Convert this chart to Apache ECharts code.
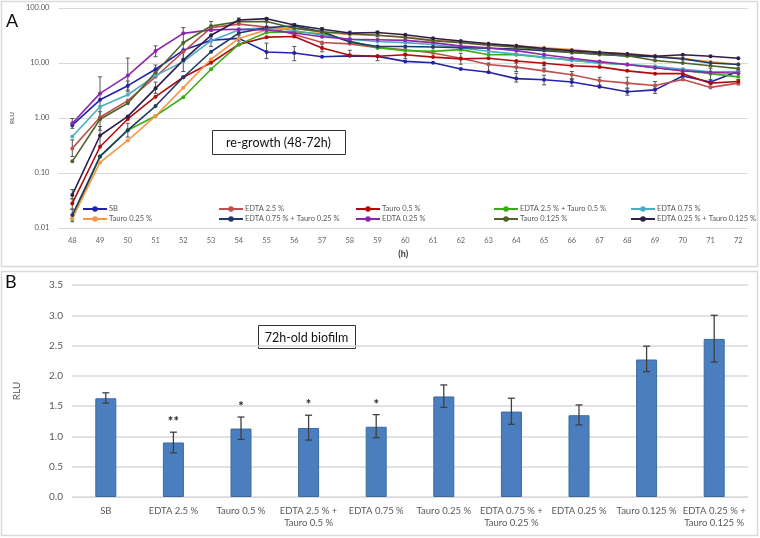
<!DOCTYPE html>
<html><head><meta charset="utf-8">
<script src="https://cdn.jsdelivr.net/npm/echarts@6/dist/echarts.min.js"></script>
<style>html,body{margin:0;padding:0;background:#fff}#c{width:760px;height:538px}</style>
</head><body><div id="c"></div>
<script>
const hours = [48,49,50,51,52,53,54,55,56,57,58,59,60,61,62,63,64,65,66,67,68,69,70,71,72];
const seriesNames = ['SB','EDTA 2.5 %','Tauro 0.5 %','EDTA 2.5 % + Tauro 0.5 %','EDTA 0.75 %','Tauro 0.25 %','EDTA 0.75 % + Tauro 0.25 %','EDTA 0.25 %','Tauro 0.125 %','EDTA 0.25 % + Tauro 0.125 %'];
const sb        = [0.74,2.14,3.87,7.7,17,26,28,15.8,15.2,13,13.5,13.2,10.7,10.1,7.8,6.8,5.2,4.95,4.5,3.7,3.0,3.25,5.8,4.5,7.1];
const edta25    = [0.28,1.03,2.07,5.6,16,44,51,45,33,23.6,22.3,19,17.4,15.2,12.2,9.4,8.4,7.2,6.1,4.8,4.3,3.9,5.0,3.6,4.3];
const tauro05   = [0.028,0.30,0.96,2.44,5.5,10.1,21.8,29.5,30.3,18.7,13.8,13.3,14.1,12.8,11.9,12.2,10.9,9.9,8.9,8.5,7.2,6.4,6.4,4.3,4.6];
const edta25t05 = [0.0146,0.20,0.6,1.09,2.38,7.7,21.8,36,37,34,25,19,16.8,16.3,17.5,14.1,14.1,12.6,11.4,10,9.4,8.2,7.4,6.4,5.6];
const edta075   = [0.46,1.6,2.65,5.9,10.6,25.5,40,44,39,32,27,24.6,23.5,21.7,18.8,16.3,14.5,12.8,11.1,10,9.4,8.7,7.7,6.9,7.0];
const tauro025  = [0.015,0.156,0.39,1.09,3.56,11.7,28,40,43,36,33,32,30,26,24,22.4,20.5,18.9,17.5,15.6,14.8,13.5,12,10.5,9.5];
const edta075t025 = [0.0172,0.20,0.6,1.65,5.5,16,35,44,47,37,24,20,20,19.5,19,18.5,18,16.8,15.6,14.5,13.5,13,11.9,10,9.4];
const edta025   = [0.80,2.8,5.9,16.5,34.6,40,41,40,35,30,27,26.4,25.8,23.5,20.3,18.8,16.8,14.1,12.2,10.6,9.4,8.2,7.2,6.7,6.5];
const tauro0125 = [0.163,0.95,1.85,6.7,23.4,47,56.5,57,43,37,34,32,29,25.5,23.5,21,19.3,17.5,15.6,14.3,13.5,11.1,10,8.9,7.9];
const edta025t0125 = [0.040,0.48,1.07,3.46,11.3,31.9,60.5,64,49,41,35,35.8,32.6,28.2,25.1,22.4,20.5,18.3,16.8,15.6,14.5,13.3,14.1,13.3,12.2];
const lineErrors = [
 [48,0.65,0.98],[48,0.2,0.4],[48,0.034,0.05],[48,0.022,0.034],[48,0.013,0.022],
 [49,1.0,5.6],[49,0.6,1.3],[49,0.3,0.7],
 [50,3.0,12.3],[50,3.2,4.7],[50,0.45,0.8],
 [51,13,20.5],[51,6.5,9.2],[51,2.8,4.5],
 [52,12,44],[52,7,16],
 [53,38,57],[53,20,30],
 [54,50,66],[54,25,32],
 [55,45,66],[55,12,23],
 [56,42,52],[56,11,20],
 [57,30,44],[57,16,22],
 [58,28,38],[58,14,17],
 [59,30,38],[59,11,13],
 [60,12,15],[62,9.5,15],[63,7,10],
 [64,4.5,6.5],[64,7,10],[65,4,6],[65,8,9],
 [66,3.8,5.2],[66,5,7],[67,4,5.5],
 [68,2.6,3.4],[68,3.5,5.5],[69,2.8,3.7],[69,3.4,4.6],
 [70,7,8],[71,4,8],[71,5,7],[72,4,5]
];
const barCategories = ['SB','EDTA 2.5 %','Tauro 0.5 %','EDTA 2.5 % +\nTauro 0.5 %','EDTA 0.75 %','Tauro 0.25 %','EDTA 0.75 % +\nTauro 0.25 %','EDTA 0.25 %','Tauro 0.125 %','EDTA 0.25 % +\nTauro 0.125 %'];
const barValues = [1.63,0.90,1.13,1.14,1.16,1.66,1.41,1.35,2.27,2.61];
const barErrLow = [1.55,0.73,0.95,0.94,0.98,1.48,1.20,1.19,2.07,2.23];
const barErrHigh = [1.72,1.07,1.32,1.35,1.36,1.85,1.63,1.52,2.49,3.00];
const sigMarks = ['','**','*','*','*','','','','',''];
const yTicksTop = [0.01,0.1,1,10,100];

const lineData = [sb,edta25,tauro05,edta25t05,edta075,tauro025,edta075t025,edta025,tauro0125,edta025t0125];
const colors = ['#2323a8','#c0504d','#b00c0c','#3aad16','#4bacc6','#f79646','#1f3a66','#8e25ad','#4f6228','#2e1f4a'];
const FONT = 'Lato, "Open Sans", sans-serif';

const chart = echarts.init(document.getElementById('c'), null, {renderer:'canvas'});

const series = lineData.map((vals, si) => ({
  name: seriesNames[si], type:'line', xAxisIndex:0, yAxisIndex:0,
  data: hours.map((h,i)=>[h, vals[i]]),
  symbol:'circle', symbolSize:4, color: colors[si],
  lineStyle:{width:1.6}, z: 3, animation:false
}));

series.unshift({
  type:'custom', xAxisIndex:0, yAxisIndex:0, z:2, silent:true, animation:false,
  data: lineErrors,
  renderItem: (params, api) => {
    const x = api.value(0);
    const lo = api.coord([x, api.value(1)]);
    const hi = api.coord([x, api.value(2)]);
    const w = 2;
    return {type:'group', children:[
      {type:'line', shape:{x1:lo[0],y1:lo[1],x2:hi[0],y2:hi[1]}, style:{stroke:'#555',lineWidth:1}},
      {type:'line', shape:{x1:hi[0]-w,y1:hi[1],x2:hi[0]+w,y2:hi[1]}, style:{stroke:'#555',lineWidth:1}},
      {type:'line', shape:{x1:lo[0]-w,y1:lo[1],x2:lo[0]+w,y2:lo[1]}, style:{stroke:'#555',lineWidth:1}}
    ]};
  }
});

series.push({
  type:'bar', xAxisIndex:1, yAxisIndex:1, data: barValues, barWidth:21,
  itemStyle:{color:'#4a7ebe', borderColor:'#3b6aa3', borderWidth:1}, animation:false
});
series.push({
  type:'custom', xAxisIndex:1, yAxisIndex:1, z:5, animation:false,
  data: barValues.map((v,i)=>[i, barErrLow[i], barErrHigh[i]]),
  renderItem: (params, api) => {
    const i = api.value(0);
    const lo = api.coord([i, api.value(1)]);
    const hi = api.coord([i, api.value(2)]);
    const w = 3.5;
    return {type:'group', children:[
      {type:'line', shape:{x1:lo[0],y1:lo[1],x2:hi[0],y2:hi[1]}, style:{stroke:'#404040',lineWidth:1.3}},
      {type:'line', shape:{x1:hi[0]-w,y1:hi[1],x2:hi[0]+w,y2:hi[1]}, style:{stroke:'#404040',lineWidth:1.3}},
      {type:'line', shape:{x1:lo[0]-w,y1:lo[1],x2:lo[0]+w,y2:lo[1]}, style:{stroke:'#404040',lineWidth:1.3}}
    ]};
  }
});
series.push({
  type:'custom', xAxisIndex:1, yAxisIndex:1, z:6, animation:false,
  data: barValues.map((v,i)=>[i, barErrHigh[i], sigMarks[i]]),
  renderItem: (params, api) => {
    const i = api.value(0);
    const p = api.coord([i, api.value(1)]);
    const t = sigMarks[i];
    if (!t) return null;
    return {type:'text', x:p[0], y:p[1]-10, style:{text:t, fill:'#222', font:'bold 13px '+FONT, align:'center', verticalAlign:'middle'}};
  }
});

const legendCols = [
  [seriesNames[0], seriesNames[5], 82],
  [seriesNames[1], seriesNames[6], 218],
  [seriesNames[2], seriesNames[7], 355],
  [seriesNames[3], seriesNames[8], 493],
  [seriesNames[4], seriesNames[9], 630]
];
const legends = legendCols.map(c => ({
  data:[c[0], c[1]], orient:'vertical', left:c[2], top:205, itemGap:2,
  itemWidth:24, itemHeight:7, textStyle:{fontSize:7.5, color:'#595959', fontFamily:FONT, padding:[0,0,0,-3]},
  padding:0, selectedMode:false
}));

chart.setOption({
  animation:false,
  textStyle:{fontFamily:FONT},
  legend: legends,
  grid:[
    {left:44, top:8, width:704, height:220},
    {left:72, top:285, width:676, height:212}
  ],
  xAxis:[
    {type:'value', gridIndex:0, min:47.5, max:72.35,
     axisLine:{show:true, lineStyle:{color:'#d9d9d9'}}, axisTick:{show:false}, splitLine:{show:false},
     axisLabel:{customValues:hours, fontSize:7.5, color:'#666', margin:9},
     name:'(h)', nameLocation:'middle', nameGap:22, nameTextStyle:{fontSize:9, fontWeight:'bold', color:'#333'}},
    {type:'category', gridIndex:1, data:barCategories,
     axisLine:{show:true, lineStyle:{color:'#d9d9d9'}}, axisTick:{show:false},
     axisLabel:{fontSize:9.5, color:'#595959', margin:8, interval:0, lineHeight:12}}
  ],
  yAxis:[
    {type:'log', gridIndex:0, logBase:10, min:0.01, max:100,
     axisLine:{show:false}, axisTick:{show:false},
     splitLine:{lineStyle:{color:'#d9d9d9', width:1}},
     axisLabel:{fontSize:7.5, color:'#555', margin:9, formatter:v=>Number(v).toFixed(2)},
     name:'RLU', nameLocation:'middle', nameGap:36, nameRotate:90, nameTextStyle:{fontSize:6.5, color:'#555'}},
    {type:'value', gridIndex:1, min:0, max:3.5, interval:0.5,
     axisLine:{show:false}, axisTick:{show:false},
     splitLine:{lineStyle:{color:'#d9d9d9', width:1.5}},
     axisLabel:{fontSize:10, color:'#595959', margin:9, formatter:v=>v.toFixed(1)},
     name:'RLU', nameLocation:'middle', nameGap:50, nameRotate:90, nameTextStyle:{fontSize:10, color:'#595959'}}
  ],
  graphic:[
    {type:'rect', shape:{x:1.5,y:1.5,width:756,height:265}, style:{fill:'none', stroke:'#d9d9d9', lineWidth:1.5}, z:-1},
    {type:'rect', shape:{x:1.5,y:271.5,width:756,height:264}, style:{fill:'none', stroke:'#d9d9d9', lineWidth:1.5}, z:-1},
    {type:'text', left:6, top:12, style:{text:'A', font:'18px '+FONT, fill:'#111'}},
    {type:'text', left:5, top:273, style:{text:'B', font:'18px '+FONT, fill:'#111'}},
    {type:'group', left:212, top:130, children:[
      {type:'rect', shape:{x:0,y:0,width:133,height:24}, style:{fill:'#fff', stroke:'#333', lineWidth:1}},
      {type:'text', x:66, y:12, style:{text:'re-growth (48-72h)', font:'12.5px '+FONT, fill:'#111', align:'center', verticalAlign:'middle'}}
    ], z:10},
    {type:'group', left:258, top:325, children:[
      {type:'rect', shape:{x:0,y:0,width:97,height:23}, style:{fill:'#fff', stroke:'#333', lineWidth:1}},
      {type:'text', x:48, y:12, style:{text:'72h-old biofilm', font:'12.5px '+FONT, fill:'#111', align:'center', verticalAlign:'middle'}}
    ], z:10}
  ],
  series: series
});
</script></body></html>
